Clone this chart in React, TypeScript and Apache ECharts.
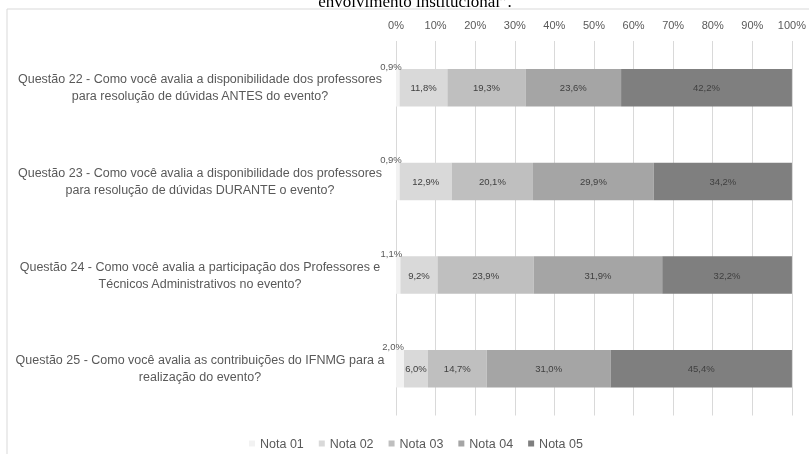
import React, { useEffect, useRef } from "react";
import * as echarts from "echarts";

const categories = [
  "Questão 22 - Como você avalia a disponibilidade dos professores\npara resolução de dúvidas ANTES do evento?",
  "Questão 23 - Como você avalia a disponibilidade dos professores\npara resolução de dúvidas DURANTE o evento?",
  "Questão 24 - Como você avalia a participação dos Professores e\nTécnicos Administrativos no evento?",
  "Questão 25 - Como você avalia as contribuições do IFNMG para a\nrealização do evento?",
];

const seriesNames = ["Nota 01", "Nota 02", "Nota 03", "Nota 04", "Nota 05"];
const nota01 = [0.9, 0.9, 1.1, 2.0];
const nota02 = [11.8, 12.9, 9.2, 6.0];
const nota03 = [19.3, 20.1, 23.9, 14.7];
const nota04 = [23.6, 29.9, 31.9, 31.0];
const nota05 = [42.2, 34.2, 32.2, 45.4];
const colors = ["#f2f2f2", "#d9d9d9", "#bfbfbf", "#a5a5a5", "#7f7f7f"];
const titleText = "envolvimento institucional”.";

const FONT = "'Liberation Sans', Arial, sans-serif";

export default function App() {
  const ref = useRef<HTMLDivElement>(null);
  useEffect(() => {
    if (!ref.current) return;
    const chart = echarts.init(ref.current, null, { renderer: "svg" });
    const all = [nota01, nota02, nota03, nota04, nota05];
    const totals = categories.map((_, i) => all.reduce((s, a) => s + a[i], 0));
    const fmt = (v: number) => v.toFixed(1).replace(".", ",") + "%";

    const series = all.map((arr, si) => ({
      name: seriesNames[si],
      type: "bar",
      stack: "total",
      barWidth: 37.5,
      itemStyle: { color: colors[si] },
      data: arr.map((v, i) => (v / totals[i]) * 100),
      label:
        si === 0
          ? {
              show: true,
              position: "top",
              distance: 0,
              align: "right",
              offset: [4, 2],
              color: "#595959",
              fontSize: 9.5,
              fontFamily: FONT,
              formatter: (p: any) => fmt(arr[p.dataIndex]),
            }
          : {
              show: true,
              position: "inside",
              color: "#404040",
              fontSize: 9.5,
              fontFamily: FONT,
              formatter: (p: any) => fmt(arr[p.dataIndex]),
            },
    }));

    chart.setOption({
      animation: false,
      textStyle: { fontFamily: FONT },
      grid: { left: 396, right: 17, top: 41, bottom: 38.5 },
      xAxis: {
        type: "value",
        position: "top",
        min: 0,
        max: 100,
        interval: 10,
        axisLine: { show: false },
        axisTick: { show: false },
        axisLabel: {
          formatter: "{value}%",
          color: "#595959",
          fontSize: 11,
          margin: 11,
          fontFamily: FONT,
        },
        splitLine: { lineStyle: { color: "#d9d9d9", width: 1 } },
      },
      yAxis: {
        type: "category",
        inverse: true,
        data: categories,
        axisLine: { show: false },
        axisTick: { show: false },
        axisLabel: {
          interval: 0,
          align: "center",
          margin: 196,
          color: "#595959",
          fontSize: 12.5,
          lineHeight: 17,
          fontFamily: FONT,
        },
      },
      legend: {
        data: seriesNames,
        left: 244,
        top: 432,
        icon: "rect",
        itemWidth: 6,
        itemHeight: 6,
        itemGap: 15,
        textStyle: { color: "#595959", fontSize: 12.5, fontFamily: FONT },
      },
      graphic: [
        {
          type: "rect",
          shape: { x: 7, y: 9, width: 900, height: 600 },
          style: { fill: "none", stroke: "#d9d9d9", lineWidth: 1 },
          silent: true,
        },
        {
          type: "text",
          x: 415,
          y: 10,
          style: {
            text: titleText,
            fill: "#000000",
            font: "17px 'Liberation Serif', 'Times New Roman', serif",
            align: "center",
            verticalAlign: "bottom",
          },
          silent: true,
        },
      ],
      series,
    });
    return () => chart.dispose();
  }, []);
  return (
    <div
      ref={ref}
      style={{ position: "fixed", left: 0, top: 0, width: 809, height: 454 }}
    />
  );
}
